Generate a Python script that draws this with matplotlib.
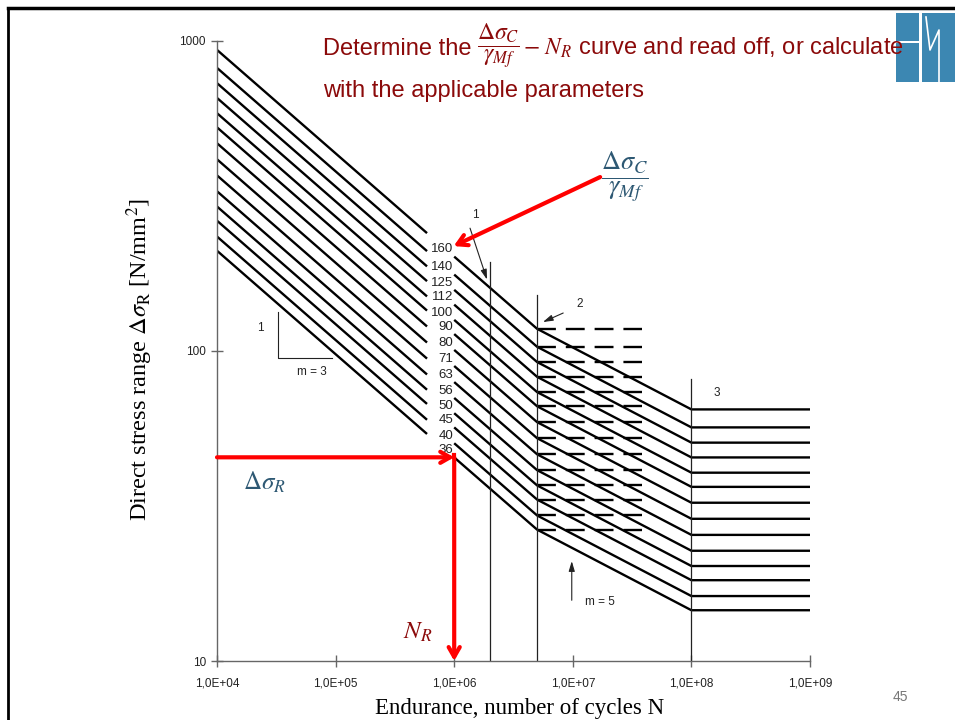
import numpy as np
import matplotlib.pyplot as plt
from matplotlib.patches import Rectangle
from matplotlib.lines import Line2D

plt.rcParams['font.family'] = ['Liberation Sans', 'DejaVu Sans']
plt.rcParams['mathtext.fontset'] = 'stix'

W, H = 955, 720

# detail categories (delta sigma_C at 2e6 cycles), as labelled on the chart
categories = [160, 140, 125, 112, 100, 90, 80, 71, 63, 56, 50, 45, 40, 36]

left_N = [1e4, 5.9e5]
left_ratio = [5.85, 1.50]
right_N = [1e6, 5e6, 1e8, 1e9]
right_ratio = [1.26, 0.737, 0.405, 0.405]
dash_N = [5e6, 3.8e7]
dash_ratio = [0.737, 0.737]

# thin vertical reference lines (2e6, 5e6, 1e8) and their top values
vline_N = [2e6, 5e6, 1e8]
vline_top = [194, 152, 81]

# red reading example
N_R = 1e6
ds_R = 45.4

x_ticks = [1e4, 1e5, 1e6, 1e7, 1e8, 1e9]
x_labels = ['1,0E+04', '1,0E+05', '1,0E+06', '1,0E+07', '1,0E+08', '1,0E+09']
y_ticks = [10, 100, 1000]
y_labels = ['10', '100', '1000']

red = '#FF0000'
dark_red = '#8B0A0A'
blue_txt = '#2D5873'
ink = '#222222'


def px(x, y):
    return x / W, 1 - y / H


fig = plt.figure(figsize=(W / 100, H / 100), dpi=100)
ax = fig.add_axes([217 / W, 1 - 661 / H, (810 - 217) / W, (661 - 41) / H])
ax.set_xscale('log')
ax.set_yscale('log')
ax.set_xlim(1e4, 1e9)
ax.set_ylim(10, 1000)

for s in ['top', 'right']:
    ax.spines[s].set_visible(False)
for s in ['left', 'bottom']:
    ax.spines[s].set_color('#666666')
    ax.spines[s].set_linewidth(1)

ax.set_xticks(x_ticks)
ax.set_xticklabels(x_labels)
ax.set_yticks(y_ticks)
ax.set_yticklabels(y_labels)
ax.minorticks_off()
ax.tick_params(direction='inout', length=8, width=1, color='#666666',
               labelsize=8.5, labelcolor=ink)
ax.tick_params(axis='x', pad=8)
ax.tick_params(axis='y', pad=4)

# S-N curves, broken where the category labels sit
for c in categories:
    ax.plot(left_N, c * np.array(left_ratio), color='black', lw=1.7,
            solid_capstyle='butt')
    ax.plot(right_N, c * np.array(right_ratio), color='black', lw=1.7,
            solid_capstyle='butt')
    ax.plot(dash_N, c * np.array(dash_ratio), color='black', lw=1.7,
            ls=(0, (8.0, 4.2)))
    ax.text(9.8e5, c * right_ratio[0] * 1.055, str(c), ha='right',
            va='center', fontsize=9.5, color=ink)

for n, top in zip(vline_N, vline_top):
    ax.plot([n, n], [10, top], color=ink, lw=0.9)

# slope triangle m = 3
ax.plot([3.27e4, 3.27e4, 9.3e4], [133.6, 94.9, 94.9], color=ink, lw=0.8)
ax.text(2.3e4, 118.6, '1', fontsize=8.5, color=ink, ha='center', va='center')
ax.text(6.3e4, 85.5, 'm = 3', fontsize=8.5, color=ink, ha='center', va='center')

small_arrow = dict(arrowstyle='-|>,head_length=0.6,head_width=0.18',
                   lw=0.8, color=ink, shrinkA=0, shrinkB=0)
ax.text(1.5e6, 274, '1', fontsize=8.5, color=ink, ha='center', va='center')
ax.annotate('', xy=(1.89e6, 170), xytext=(1.36e6, 249), arrowprops=small_arrow)
ax.text(1.15e7, 142, '2', fontsize=8.5, color=ink, ha='center', va='center')
ax.annotate('', xy=(5.6e6, 124), xytext=(8.3e6, 132.6), arrowprops=small_arrow)
ax.text(1.64e8, 73.2, '3', fontsize=8.5, color=ink, ha='center', va='center')
ax.text(1.7e7, 15.5, 'm = 5', fontsize=8.5, color=ink, ha='center', va='center')
ax.annotate('', xy=(9.8e6, 21.0), xytext=(9.8e6, 15.7), arrowprops=small_arrow)

# red reading arrows
red_arrow = dict(arrowstyle='->,head_length=0.7,head_width=0.4', lw=3,
                 color=red, shrinkA=0, shrinkB=0)
ax.annotate('', xy=(N_R, ds_R), xytext=(1e4, ds_R), arrowprops=red_arrow,
            annotation_clip=False)
ax.annotate('', xy=(N_R, 10), xytext=(N_R, ds_R), arrowprops=red_arrow,
            annotation_clip=False)
ax.plot([N_R, N_R], [ds_R, ds_R * 1.02], color=red, lw=3)
ax.annotate('', xy=(9.9e5, 218), xytext=(1.7e7, 364), arrowprops=red_arrow,
            annotation_clip=False)

# axis titles (serif, as in the scanned figure)
fig.text(*px(140, 360), r'Direct stress range $\Delta\sigma_\mathrm{R}$ [N/mm$^2$]',
         rotation=90, ha='center', va='center', fontsize=17.5,
         family='Liberation Serif', color='black')
fig.text(*px(520, 714), 'Endurance, number of cycles N', ha='center',
         va='baseline', fontsize=16.5, family='Liberation Serif', color='black')

# slide title, first line built from three pieces so the fraction can be sized apart
renderer = fig.canvas.get_renderer()
t1 = fig.text(*px(323, 55), 'Determine the', ha='left', va='baseline',
              fontsize=17, color=dark_red, zorder=5)
x_next = t1.get_window_extent(renderer).x1 + 5
t2 = fig.text(x_next / W, 1 - 53 / H, r'$\dfrac{\Delta\sigma_C}{\gamma_{Mf}}$',
              ha='left', va='baseline', fontsize=17, color=dark_red, zorder=5)
x_next = t2.get_window_extent(renderer).x1 + 4
fig.text(x_next / W, 1 - 55 / H, r'$-\ N_R$ curve and read off, or calculate',
         ha='left', va='baseline', fontsize=17, color=dark_red, zorder=5)
fig.text(*px(323, 97), 'with the applicable parameters', ha='left',
         va='baseline', fontsize=17, color=dark_red)

fig.text(*px(625, 177), r'$\dfrac{\Delta\sigma_C}{\gamma_{Mf}}$', ha='center',
         va='center', fontsize=19, color=blue_txt)
fig.text(*px(243, 482), r'$\Delta\sigma_R$', ha='left', va='center',
         fontsize=18, color=blue_txt)
fig.text(*px(403, 632), r'$N_R$', ha='left', va='center', fontsize=18,
         color=dark_red)
fig.text(*px(900, 697), '45', ha='center', va='center', fontsize=10,
         color='#777777')

# slide frame
fig.add_artist(Line2D([8 / W, 1], [1 - 8 / H] * 2, color='black', lw=2.5,
                      transform=fig.transFigure))
fig.add_artist(Line2D([8 / W] * 2, [0, 1 - 8 / H], color='black', lw=2,
                      transform=fig.transFigure))

# logo
logo = '#3C87B2'
for x0, y0, x1, y1 in [(896, 13, 919, 41), (896, 43, 919, 82), (922, 13, 955, 82)]:
    fig.add_artist(Rectangle((x0 / W, 1 - y1 / H), (x1 - x0) / W, (y1 - y0) / H,
                             color=logo, transform=fig.transFigure, lw=0,
                             zorder=1))
fig.add_artist(Line2D([926 / W, 930 / W, 939 / W, 939 / W],
                      [1 - 17 / H, 1 - 50 / H, 1 - 30 / H, 1 - 82 / H],
                      color='white', lw=1.2, transform=fig.transFigure,
                      zorder=1))

fig.savefig('out.png', dpi=100)
